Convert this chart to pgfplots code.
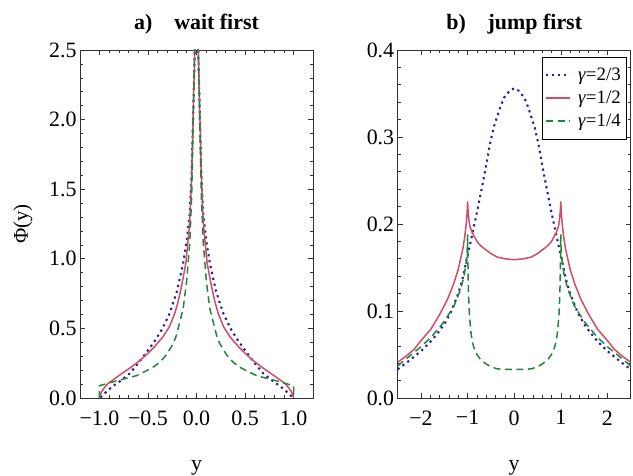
\documentclass[border=0pt]{standalone}
\usepackage{fontspec}
\setmainfont{Liberation Serif}
\usepackage{pgfplots}
\pgfplotsset{compat=1.18}
\definecolor{cblue}{rgb}{0.17,0.12,0.62}
\definecolor{cred}{rgb}{0.82,0.30,0.40}
\definecolor{cgreen}{rgb}{0.13,0.53,0.22}
\pgfplotsset{
 mystyle/.style={
  scale only axis, width=233bp, height=348bp,
  axis line style={line width=0.8bp, black!80},
  tick style={black!80, line width=0.6bp},
  tick align=inside,
  major tick length=5bp, minor tick length=3bp,
  ticklabel style={font=\fontsize{22}{26}\selectfont},
  title style={font=\fontsize{22}{26}\selectfont\bfseries, at={(axis description cs:0.5,1)}, anchor=base, yshift=15bp},
  xlabel style={font=\fontsize{22}{26}\selectfont, at={(axis description cs:0.5,0)}, anchor=base, yshift=-72bp},
  minor x tick num=4, minor y tick num=4,
 },
 pblue/.style={cblue, line width=2.1bp, dash pattern=on 2.2bp off 3.8bp},
 pred/.style={cred, line width=1.5bp, solid},
 pgreen/.style={cgreen, line width=1.5bp, dash pattern=on 7bp off 4.5bp},
}
\begin{document}
\begin{tikzpicture}
\useasboundingbox (-80bp,-78bp) rectangle (553bp,398bp);
\begin{axis}[mystyle, at={(0bp,0bp)}, anchor=south west,
  xmin=-1.2, xmax=1.2, ymin=0, ymax=2.5,
  xtick={-1,-0.5,0,0.5,1}, xticklabels={−1.0,−0.5,0.0,0.5,1.0},
  ytick={0,0.5,1,1.5,2,2.5}, yticklabels={0.0,0.5,1.0,1.5,2.0,2.5},
  xticklabel style={yshift=-9bp},
  title={a)\hspace{1em}wait first}, xlabel={y}, ylabel={Φ(y)},
  ylabel style={font=\fontsize{21}{24}\selectfont, at={(axis description cs:-0.245,0.5)}, anchor=center},
]
\addplot[pblue] coordinates {(-0.99,0.004) (-0.966,0.02) (-0.92,0.05) (-0.862,0.085) (-0.78,0.125) (-0.69,0.175) (-0.6,0.25) (-0.51,0.333) (-0.43,0.41) (-0.35,0.50) (-0.276,0.608) (-0.2,0.77) (-0.138,0.967) (-0.1,1.13) (-0.069,1.33) (-0.05,1.62) (-0.035,2.02) (-0.018,2.5) (0,3.0)
(0.018,2.5) (0.035,2.02) (0.05,1.62) (0.069,1.33) (0.1,1.13) (0.138,0.967) (0.2,0.77) (0.276,0.608) (0.35,0.50) (0.43,0.41) (0.51,0.333) (0.6,0.25) (0.69,0.175) (0.78,0.125) (0.862,0.085) (0.92,0.05) (0.966,0.02) (0.99,0.004)};
\addplot[pred] coordinates {(-1.0,0) (-0.99,0.025) (-0.975,0.048) (-0.948,0.075) (-0.91,0.105) (-0.862,0.129) (-0.78,0.17) (-0.69,0.213) (-0.6,0.26) (-0.517,0.31) (-0.43,0.37) (-0.345,0.44) (-0.28,0.51) (-0.224,0.608) (-0.19,0.69) (-0.155,0.80) (-0.11,0.967) (-0.076,1.21) (-0.065,1.33) (-0.05,1.6) (-0.035,2.02) (-0.018,2.5) (0,3.0)
(0.018,2.5) (0.035,2.02) (0.05,1.6) (0.065,1.33) (0.076,1.21) (0.11,0.967) (0.155,0.80) (0.19,0.69) (0.224,0.608) (0.28,0.51) (0.345,0.44) (0.43,0.37) (0.517,0.31) (0.6,0.26) (0.69,0.213) (0.78,0.17) (0.862,0.129) (0.91,0.105) (0.948,0.075) (0.975,0.048) (0.99,0.025) (1.0,0)};
\addplot[pgreen] coordinates {(-1.0,0) (-1.0,0.088) (-0.95,0.098) (-0.85,0.118) (-0.76,0.135) (-0.62,0.16) (-0.517,0.195) (-0.45,0.22) (-0.38,0.255) (-0.31,0.31) (-0.24,0.39) (-0.207,0.45) (-0.138,0.64) (-0.103,0.83) (-0.069,1.12) (-0.05,1.45) (-0.035,1.95) (-0.018,2.5) (0,3.0)
(0.018,2.5) (0.035,1.95) (0.05,1.45) (0.069,1.12) (0.103,0.83) (0.138,0.64) (0.207,0.45) (0.24,0.39) (0.31,0.31) (0.38,0.255) (0.45,0.22) (0.517,0.195) (0.62,0.16) (0.76,0.135) (0.85,0.118) (0.95,0.098) (1.0,0.088) (1.0,0)};
\end{axis}
\begin{axis}[mystyle, at={(317.7bp,0bp)}, anchor=south west,
  xmin=-2.5, xmax=2.5, ymin=0, ymax=0.4,
  xtick={-2,-1,0,1,2}, xticklabels={−2,−1,0,1,2},
  ytick={0,0.1,0.2,0.3,0.4}, yticklabels={0.0,0.1,0.2,0.3,0.4},
  xticklabel style={yshift=-9bp},
  title={b)\hspace{1em}jump first}, xlabel={y},
  legend style={at={(0.98,0.98)}, anchor=north east, draw=black,
    font=\fontsize{19}{22}\selectfont, inner xsep=3bp, inner ysep=9bp, row sep=5bp, column sep=5bp},
  legend cell align=left,
  legend image code/.code={\draw[#1] (0bp,0bp) -- (24bp,0bp);},
]
\addplot[pblue] coordinates {(-2.5,0.033) (-2.25,0.043) (-2.0,0.054) (-1.79,0.065) (-1.65,0.074) (-1.5,0.085) (-1.364,0.098) (-1.2,0.12) (-1.113,0.136) (-1.05,0.152) (-0.97,0.171) (-0.88,0.193) (-0.79,0.216) (-0.7,0.24) (-0.61,0.265) (-0.52,0.292) (-0.435,0.312) (-0.3,0.334) (-0.22,0.345) (-0.1,0.353) (0,0.356)
(0.1,0.353) (0.22,0.345) (0.3,0.334) (0.435,0.312) (0.52,0.292) (0.61,0.265) (0.7,0.24) (0.79,0.216) (0.88,0.193) (0.97,0.171) (1.05,0.152) (1.113,0.136) (1.2,0.12) (1.364,0.098) (1.5,0.085) (1.65,0.074) (1.79,0.065) (2.0,0.054) (2.25,0.043) (2.5,0.033)};
\addlegendentry{\textit{γ}=2/3}
\addplot[pred] coordinates {(-2.5,0.041) (-2.3,0.049) (-2.148,0.056) (-2.0,0.066) (-1.79,0.079) (-1.6,0.096) (-1.435,0.113) (-1.3,0.131) (-1.2,0.148) (-1.1,0.172) (-1.06,0.186) (-1.03,0.2) (-1.01,0.213) (-1.0,0.226) (-0.99,0.215) (-0.97,0.204) (-0.95,0.197) (-0.9,0.19) (-0.8,0.18) (-0.72,0.175) (-0.6,0.17) (-0.5,0.166) (-0.364,0.162) (-0.2,0.16) (0,0.159)
(0.2,0.16) (0.364,0.162) (0.5,0.166) (0.6,0.17) (0.72,0.175) (0.8,0.18) (0.9,0.19) (0.95,0.197) (0.97,0.204) (0.99,0.215) (1.0,0.226) (1.01,0.213) (1.03,0.2) (1.06,0.186) (1.1,0.172) (1.2,0.148) (1.3,0.131) (1.435,0.113) (1.6,0.096) (1.79,0.079) (2.0,0.066) (2.148,0.056) (2.3,0.049) (2.5,0.041)};
\addlegendentry{\textit{γ}=1/2}
\addplot[pgreen] coordinates {(-2.5,0.037) (-2.25,0.048) (-2.0,0.059) (-1.79,0.0695) (-1.5,0.088) (-1.29,0.106) (-1.15,0.125) (-1.077,0.14) (-1.03,0.156) (-1.01,0.168) (-1.0,0.188) (-0.99,0.145) (-0.98,0.12) (-0.96,0.095) (-0.93,0.076) (-0.9,0.065) (-0.86,0.057) (-0.8,0.05) (-0.72,0.044) (-0.6,0.039) (-0.5,0.036) (-0.364,0.0335) (-0.2,0.0329) (0,0.0327)
(0.2,0.0329) (0.364,0.0335) (0.5,0.036) (0.6,0.039) (0.72,0.044) (0.8,0.05) (0.86,0.057) (0.9,0.065) (0.93,0.076) (0.96,0.095) (0.98,0.12) (0.99,0.145) (1.0,0.188) (1.01,0.168) (1.03,0.156) (1.077,0.14) (1.15,0.125) (1.29,0.106) (1.5,0.088) (1.79,0.0695) (2.0,0.059) (2.25,0.048) (2.5,0.037)};
\addlegendentry{\textit{γ}=1/4}
\end{axis}
\end{tikzpicture}
\end{document}
